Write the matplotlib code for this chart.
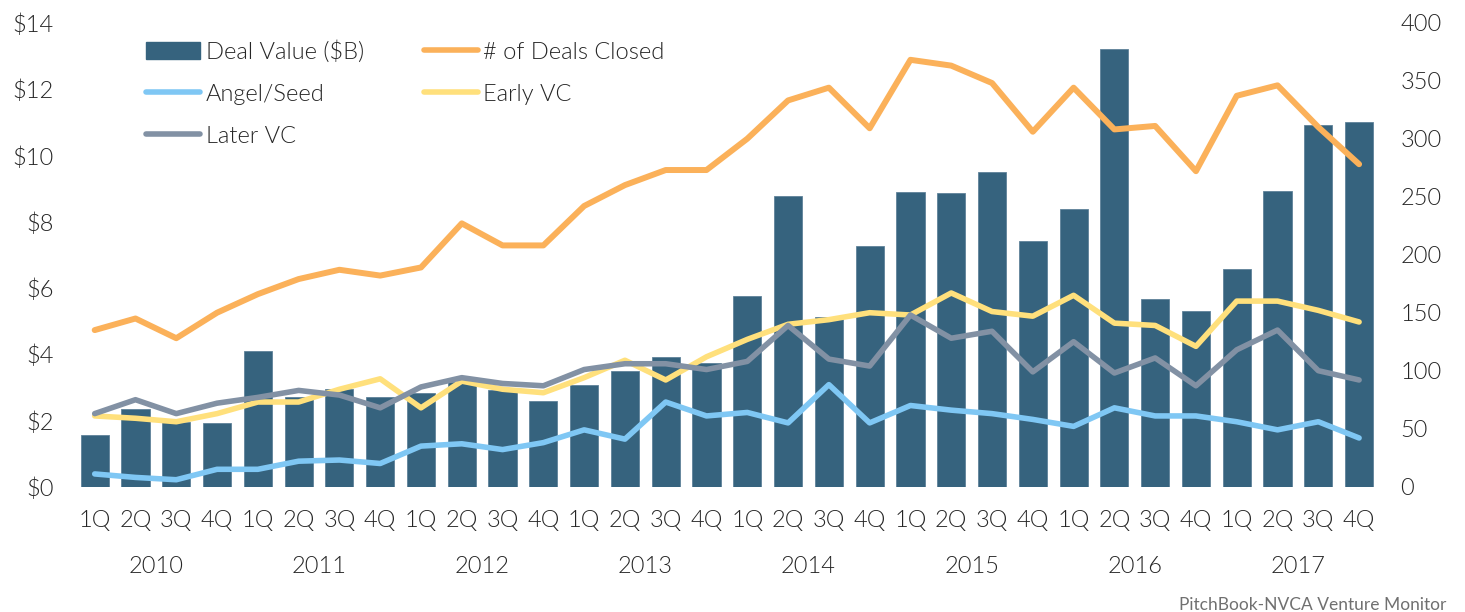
import matplotlib
matplotlib.use("Agg")
import matplotlib.pyplot as plt
from matplotlib.patches import Patch
from matplotlib.lines import Line2D
import numpy as np

plt.rcParams['font.family'] = ['Lato', 'DejaVu Sans']
plt.rcParams['font.weight'] = 300

quarters = ["1Q", "2Q", "3Q", "4Q"] * 8
years = ["2010", "2011", "2012", "2013", "2014", "2015", "2016", "2017"]

deal_value = [1.56, 2.34, 1.96, 1.92, 4.09, 2.72, 2.94, 2.71, 2.83, 3.17, 2.92, 2.59,
              3.07, 3.49, 3.90, 3.72, 5.76, 8.78, 5.11, 7.27, 8.90, 8.85, 9.51, 7.41,
              8.37, 13.20, 5.65, 5.30, 6.56, 8.91, 10.91, 11.01]
deals_closed = [135, 145, 128, 150, 166, 179, 187, 182, 189, 227, 208, 208,
                242, 260, 273, 273, 300, 333, 344, 309, 368, 363, 348, 306,
                344, 308, 311, 272, 337, 346, 310, 278]
angel_seed = [11, 8, 6, 15, 15, 22, 23, 20, 35, 37, 32, 38,
              49, 41, 73, 61, 64, 55, 88, 55, 70, 66, 63, 58,
              52, 68, 61, 61, 56, 49, 56, 42]
early_vc = [61, 59, 56, 63, 73, 73, 84, 93, 68, 91, 84, 81,
            94, 109, 92, 112, 127, 140, 144, 150, 148, 167, 151, 147,
            165, 141, 139, 121, 160, 160, 152, 142]
later_vc = [63, 75, 63, 72, 77, 83, 79, 68, 86, 94, 89, 87,
            101, 106, 106, 101, 108, 139, 110, 104, 148, 128, 134, 99,
            125, 98, 111, 87, 118, 135, 100, 92]

C_BAR = "#36637e"
C_ORANGE = "#fbb15a"
C_BLUE = "#7fc7f4"
C_YELLOW = "#ffe07c"
C_GRAY = "#8291a4"
C_TEXT = "#262626"
FS = 17

W, H = 1465, 612
fig = plt.figure(figsize=(W / 100, H / 100), dpi=100)
ax = fig.add_axes([74.3 / W, (H - 486.7) / H, (1379.5 - 74.3) / W, (486.7 - 22.7) / H])
ax2 = ax.twinx()

x = np.arange(len(deal_value))
ax.bar(x, deal_value, width=0.69, color=C_BAR, edgecolor="#5f8299", linewidth=0.6, zorder=2)
ax2.plot(x, deals_closed, color=C_ORANGE, lw=4.3, solid_capstyle='round', zorder=3)
ax2.plot(x, angel_seed, color=C_BLUE, lw=4, solid_capstyle='round', zorder=3)
ax2.plot(x, early_vc, color=C_YELLOW, lw=4, solid_capstyle='round', zorder=3)
ax2.plot(x, later_vc, color=C_GRAY, lw=4, solid_capstyle='round', zorder=3)

ax.set_xlim(-0.5, len(deal_value) - 0.5)
ax.set_ylim(0, 14)
ax2.set_ylim(0, 400)
ax.set_yticks(np.arange(0, 15, 2))
ax.set_yticklabels([f"${v}" for v in range(0, 15, 2)])
ax2.set_yticks(np.arange(0, 401, 50))

ax.set_xticks(x)
ax.set_xticklabels(quarters)
ax.set_xticks(np.arange(1.5, 32, 4), minor=True)
ax.set_xticklabels(years, minor=True)

for a in (ax, ax2):
    for s in a.spines.values():
        s.set_visible(False)

ax.tick_params(axis='y', length=0, pad=15, labelsize=FS, labelcolor=C_TEXT)
ax2.tick_params(axis='y', length=0, pad=15, labelsize=FS, labelcolor=C_TEXT)
ax.tick_params(axis='x', which='major', length=0, pad=17, labelsize=FS, labelcolor=C_TEXT)
ax.tick_params(axis='x', which='minor', length=0, pad=50, labelsize=FS, labelcolor=C_TEXT)

handles = [
    Patch(facecolor=C_BAR, edgecolor=C_BAR),
    Line2D([], [], color=C_BLUE, lw=4, solid_capstyle='round'),
    Line2D([], [], color=C_GRAY, lw=4, solid_capstyle='round'),
    Line2D([], [], color=C_ORANGE, lw=4, solid_capstyle='round'),
    Line2D([], [], color=C_YELLOW, lw=4, solid_capstyle='round'),
]
labels = ["Deal Value ($B)", "Angel/Seed", "Later VC", "# of Deals Closed", "Early VC"]
leg = ax2.legend(handles, labels, ncol=2, loc='upper left',
                 bbox_to_anchor=(146 / W, (H - 40) / H), bbox_transform=fig.transFigure,
                 frameon=False, borderpad=0, borderaxespad=0, handlelength=2.3,
                 handletextpad=0.22, columnspacing=2.55, labelspacing=0.89,
                 prop={'size': FS, 'weight': 300})
for t in leg.get_texts():
    t.set_color(C_TEXT)

fig.text(1446 / W, 1.5 / H, "PitchBook-NVCA Venture Monitor", ha='right', va='baseline',
         fontsize=12.5, color="#707070", fontweight='normal')

fig.savefig("out.png", dpi=100)
